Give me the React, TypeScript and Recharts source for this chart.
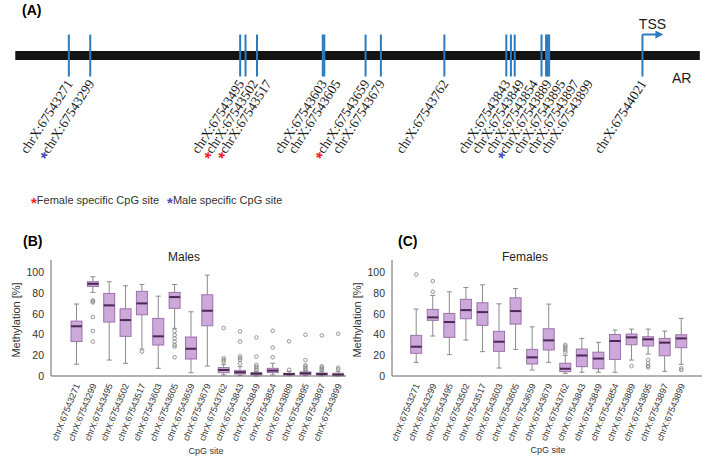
import { ScatterChart, Scatter, ComposedChart, Bar, XAxis, YAxis, ReferenceArea } from 'recharts';

// CpG sites on the AR promoter (chrX)
const sitePositions = [
  67543271, 67543299, 67543495, 67543502, 67543517, 67543603, 67543605, 67543659, 67543679,
  67543762, 67543843, 67543849, 67543854, 67543889, 67543895, 67543897, 67543899,
];
const siteNames = sitePositions.map((p) => `chrX:${p}`);
const tssPosition = 67544021;
const geneStart = 67543201;
const geneEnd = 67544096;
const femaleSpecific = [67543502, 67543517, 67543659];
const maleSpecific = [67543299, 67543889];

// Males boxplot stats
const maleLow = [11.4, 80.7, 15.4, 12.2, 26, 7.4, 46, 3.2, 9.6, 1, 0.3, 0, 1, 0.3, 0.3, 0.3, 0];
const maleQ1 = [33.3, 86.5, 52.1, 38.3, 59.1, 29.9, 65.3, 16.4, 48.5, 3.2, 1.9, 1, 3.2, 1, 1.3, 1, 0.3];
const maleMedian = [48, 89, 68.2, 54, 70.1, 38.3, 76.2, 26.3, 63, 5.8, 3.6, 2.3, 5.2, 1.9, 2.6, 1.9, 1.3];
const maleQ3 = [53, 91, 79.7, 64.9, 81.7, 55.6, 80.7, 37.6, 78.4, 8.1, 5.2, 3.2, 7.4, 2.6, 3.9, 2.9, 2.6];
const maleHigh = [69.5, 95.8, 91, 87.1, 88.4, 77.1, 88.4, 62, 97.4, 11.3, 9, 4.5, 12.3, 4.5, 5, 4.2, 4.2];
const maleOutliers = [
  [], [73, 72, 71, 57, 43.4, 33.2], [], [], [23.5], [], [43.4, 39.6, 36.4, 33.2, 30, 28.4, 18.1], [], [],
  [46.3, 17.2, 15.5, 13.9], [43, 33.3, 18.8, 17.2, 15.5, 12], [37.2, 18.8, 10.7, 9, 7.4, 5.8],
  [43.7, 27.5, 18.1], [33.5, 6], [39.8, 15.5, 10.4, 9, 7.5, 6], [39.2, 9.4, 8, 7, 5.5], [40.8, 8.1, 6.5],
];

// Females boxplot stats
const femaleLow = [13.2, 38.6, 20.6, 34.7, 23.5, 7.7, 25.7, 5.8, 13.2, 2.6, 3.6, 3.6, 3.6, 15.4, 21.2, 4.5, 11.3];
const femaleQ1 = [21.9, 53.7, 37.3, 55.3, 48.9, 23.8, 50.1, 11.6, 25.1, 4.2, 9, 7, 16, 30.2, 29, 19.5, 27.3];
const femaleMedian = [28.3, 56.6, 52.1, 63.6, 61.7, 33.1, 62.7, 18, 34.4, 7, 19.8, 16.8, 33.8, 37.3, 35.4, 32.2, 36.3];
const femaleQ3 = [39.2, 64.3, 60.4, 74, 70.7, 43.1, 75.5, 25.7, 45.6, 12.3, 26, 23, 40, 40.5, 37.9, 36.3, 39.8];
const femaleHigh = [64.6, 77.8, 81.3, 85.5, 88, 69.7, 84.5, 47.5, 69.4, 20, 36.3, 32.5, 44.4, 45.3, 45.3, 43.4, 55.6];
const femaleOutliers = [
  [98], [91.6, 81.3], [], [], [], [], [], [], [],
  [30, 28.5, 27, 25, 23], [], [], [], [9.5], [15.5, 12.3, 9.7, 8.3], [], [7.4, 5.8],
];

const BLUE = '#2b7bbf';
const SANS = '"Liberation Sans", Arial, sans-serif';
const RED_STAR = '#ff1f1f';
const BLUE_STAR = '#4a4ab8';

// spread labels so close sites don't overlap (in bp)
const trackSites = [...sitePositions, tssPosition];
const labelPositions: number[] = [];
trackSites.forEach((p, i) => {
  const prev = i > 0 ? labelPositions[i - 1] + 18 : -Infinity;
  labelPositions.push(Math.max(p + 6, prev));
});

const tickData = trackSites.map((pos) => ({ pos, level: 0 }));
const labelData = trackSites.map((pos, i) => ({ pos: labelPositions[i], level: 0, site: pos }));

const SiteTick = (props: any) => {
  const { cx, cy } = props;
  return <line x1={cx} x2={cx} y1={cy - 21} y2={cy + 21} stroke={BLUE} strokeWidth={2} />;
};

const SiteLabel = (props: any) => {
  const { cx, cy, payload } = props;
  const y = cy + 28;
  const female = femaleSpecific.includes(payload.site);
  const male = maleSpecific.includes(payload.site);
  return (
    <text x={cx} y={y} transform={`rotate(-57 ${cx} ${y})`} textAnchor="end"
      fontFamily='"Liberation Serif", "Times New Roman", serif' fontSize={13.5} fill="#1a1a1a">
      {female && <tspan fill={RED_STAR} fontFamily={SANS} fontSize={17} fontWeight="bold" dy={5}>*</tspan>}
      {male && <tspan fill={BLUE_STAR} fontFamily={SANS} fontSize={17} fontWeight="bold" dy={5}>*</tspan>}
      <tspan dy={female || male ? -5 : 0}>{`chrX:${payload.site}`}</tspan>
    </text>
  );
};

const TssArrow = (props: any) => {
  const { cx, cy } = props;
  const y = cy - 21;
  return (
    <g>
      <line x1={cx} x2={cx + 14} y1={y} y2={y} stroke={BLUE} strokeWidth={2} />
      <path d={`M${cx + 13},${y - 4} L${cx + 21},${y} L${cx + 13},${y + 4} Z`} fill={BLUE} />
      <text x={cx + 10} y={y - 6} textAnchor="middle" fontFamily={SANS} fontSize={14} fill="#1a1a1a">TSS</text>
    </g>
  );
};

const GeneTrack = () => (
  <ScatterChart width={709} height={215} margin={{ top: 0, right: 0, bottom: 0, left: 0 }}>
    <XAxis type="number" dataKey="pos" domain={[67543181, 67544108]} hide />
    <YAxis type="number" dataKey="level" domain={[-55.5, 159.5]} reversed hide />
    <ReferenceArea x1={geneStart} x2={geneEnd} y1={-4.5} y2={4.5} fill="#141414" fillOpacity={1} stroke="none" />
    <Scatter data={tickData} shape={SiteTick} isAnimationActive={false} />
    <Scatter data={labelData} shape={SiteLabel} isAnimationActive={false} />
    <Scatter data={[{ pos: tssPosition, level: 0 }]} shape={TssArrow} isAnimationActive={false} />
  </ScatterChart>
);

const BoxShape = (props: any) => {
  const { x, y, width, height, payload } = props;
  const { low, high, q1, median, q3, outliers } = payload;
  const top = Math.min(y, y + height);
  const h = Math.abs(height);
  const py = (v: number) => top + (h * (high - v)) / (high - low);
  const cx = x + width / 2;
  const grey = '#8a8a8a';
  return (
    <g>
      <line x1={cx} x2={cx} y1={py(high)} y2={py(q3)} stroke={grey} strokeWidth={1} />
      <line x1={cx} x2={cx} y1={py(q1)} y2={py(low)} stroke={grey} strokeWidth={1} />
      <line x1={cx - 2.5} x2={cx + 2.5} y1={py(high)} y2={py(high)} stroke={grey} strokeWidth={1} />
      <line x1={cx - 2.5} x2={cx + 2.5} y1={py(low)} y2={py(low)} stroke={grey} strokeWidth={1} />
      <rect x={x} y={py(q3)} width={width} height={Math.max(py(q1) - py(q3), 1)} fill="#cda8da" stroke="#9b72a8" strokeWidth={1} />
      <line x1={x} x2={x + width} y1={py(median)} y2={py(median)} stroke="#4a2852" strokeWidth={2} />
      {outliers.map((o: number, i: number) => (
        <circle key={i} cx={cx} cy={py(o)} r={1.8} fill="none" stroke="#8a8a8a" strokeWidth={0.9} />
      ))}
    </g>
  );
};

const CpgTick = (props: any) => {
  const { x, y, payload } = props;
  return (
    <text x={x + 4} y={y + 1} transform={`rotate(-68 ${x + 4} ${y + 1})`} textAnchor="end"
      fontFamily={SANS} fontSize={9} fill="#333">
      {payload.value}
    </text>
  );
};

type BoxPlotProps = {
  low: number[]; q1: number[]; median: number[]; q3: number[]; high: number[]; outliers: number[][];
  width: number; yWidth: number; padLeft: number; padRight: number; marginRight: number;
};

const BoxPlot = ({ low, q1, median, q3, high, outliers, width, yWidth, padLeft, padRight, marginRight }: BoxPlotProps) => {
  const rows = siteNames.map((site, i) => ({
    site, range: [low[i], high[i]], low: low[i], q1: q1[i], median: median[i], q3: q3[i], high: high[i], outliers: outliers[i],
  }));
  return (
    <ComposedChart width={width} height={235} data={rows} margin={{ top: 30, right: marginRight, bottom: 9, left: 0 }}>
      <XAxis dataKey="site" interval={0} height={80} tick={CpgTick} tickLine={false}
        padding={{ left: padLeft, right: padRight }} stroke="#666" />
      <YAxis type="number" domain={[0, 112]} ticks={[0, 20, 40, 60, 80, 100]} width={yWidth}
        tickLine={false} tickSize={5} tickMargin={2} stroke="#666"
        tick={{ fontSize: 10.5, fill: '#333', fontFamily: SANS }} />
      <Bar dataKey="range" barSize={11} shape={BoxShape} isAnimationActive={false} />
    </ComposedChart>
  );
};

const abs = (left: number, top: number, extra: any = {}) => ({ position: 'absolute' as const, left, top, whiteSpace: 'nowrap' as const, fontFamily: SANS, lineHeight: 1, ...extra });

export default function App() {
  return (
    <div style={{ position: 'absolute', left: 0, top: 0, width: 709, height: 465, background: '#fff', overflow: 'hidden' }}>
      <div style={{ position: 'absolute', left: 0, top: 0 }}>
        <GeneTrack />
      </div>
      <div style={abs(22, 3, { fontSize: 14, fontWeight: 'bold' })}>(A)</div>
      <div style={abs(672, 71, { fontSize: 14, color: '#1a1a1a' })}>AR</div>
      <div style={abs(31, 195, { fontSize: 11, color: '#333' })}>
        <span style={{ color: RED_STAR, fontSize: 15, fontWeight: 'bold', verticalAlign: 'top' }}>*</span>Female specific CpG site
        <span style={{ color: BLUE_STAR, fontSize: 15, fontWeight: 'bold', marginLeft: 8, verticalAlign: 'top' }}>*</span>Male specific CpG site
      </div>

      <div style={abs(23, 234, { fontSize: 14, fontWeight: 'bold' })}>(B)</div>
      <div style={abs(398, 234, { fontSize: 14, fontWeight: 'bold' })}>(C)</div>
      <div style={abs(184, 251, { fontSize: 12, color: '#222', transform: 'translateX(-50%)' })}>Males</div>
      <div style={abs(525, 251, { fontSize: 12, color: '#222', transform: 'translateX(-50%)' })}>Females</div>

      <div style={{ position: 'absolute', left: 0, top: 230 }}>
        <BoxPlot low={maleLow} q1={maleQ1} median={maleMedian} q3={maleQ3} high={maleHigh} outliers={maleOutliers}
          width={355} yWidth={51} padLeft={17} padRight={0} marginRight={9} />
      </div>
      <div style={{ position: 'absolute', left: 355, top: 230 }}>
        <BoxPlot low={femaleLow} q1={femaleQ1} median={femaleMedian} q3={femaleQ3} high={femaleHigh} outliers={femaleOutliers}
          width={354} yWidth={37} padLeft={15.7} padRight={12.7} marginRight={7} />
      </div>

      <div style={abs(16, 320, { fontSize: 11, color: '#333', transform: 'translate(-50%, -50%) rotate(-90deg)' })}>Methylation [%]</div>
      <div style={abs(357, 320, { fontSize: 11, color: '#333', transform: 'translate(-50%, -50%) rotate(-90deg)' })}>Methylation [%]</div>
      <div style={abs(206, 447, { fontSize: 9, color: '#333', transform: 'translateX(-50%)' })}>CpG site</div>
      <div style={abs(548, 446, { fontSize: 9, color: '#333', transform: 'translateX(-50%)' })}>CpG site</div>
    </div>
  );
}
